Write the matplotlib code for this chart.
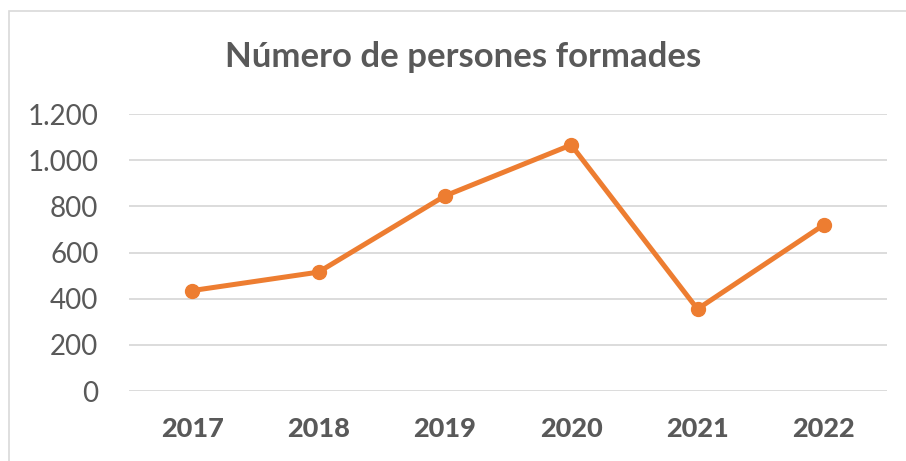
import matplotlib.pyplot as plt
from matplotlib.patches import Rectangle
from matplotlib.ticker import FuncFormatter

# data
years = ['2017', '2018', '2019', '2020', '2021', '2022']
persones = [435, 515, 845, 1066, 355, 720]
yticks = [0, 200, 400, 600, 800, 1000, 1200]

plt.rcParams['font.family'] = ['Lato', 'DejaVu Sans']
grey = '#595959'
orange = '#ED7D31'

fig = plt.figure(figsize=(9.06, 4.61), dpi=100)
ax = fig.add_axes([129 / 906, 1 - 391 / 461, (887 - 129) / 906, (391 - 114) / 461])

# chart border (cropped at right and bottom in the reference)
fig.patches.append(Rectangle((9 / 906, -0.1), 1.2, 1.1 - 11 / 461, transform=fig.transFigure,
                             fill=False, edgecolor='#D9D9D9', linewidth=1.2))

x = range(len(years))
ax.plot(x, persones, color=orange, linewidth=3.6, marker='o', markersize=10, clip_on=False, zorder=3)

ax.set_xlim(-0.5, len(years) - 0.5)
ax.set_ylim(0, 1200)
ax.set_yticks(yticks)
ax.yaxis.set_major_formatter(FuncFormatter(lambda v, p: f'{int(v):,}'.replace(',', '.')))
ax.set_xticks(list(x))
ax.set_xticklabels(years, fontweight='black')

ax.grid(axis='y', color='#D9D9D9', linewidth=1.3)
ax.set_axisbelow(True)
for s in ax.spines.values():
    s.set_visible(False)
ax.tick_params(axis='y', length=0, pad=22, labelsize=20, labelcolor=grey)
ax.tick_params(axis='x', length=0, pad=19, labelsize=19.5, labelcolor=grey)

fig.text(463 / 906, 1 - 57 / 461, 'Número de persones formades', ha='center', va='center',
         fontsize=25, fontweight='bold', color=grey)

fig.savefig('out.png', dpi=100)
